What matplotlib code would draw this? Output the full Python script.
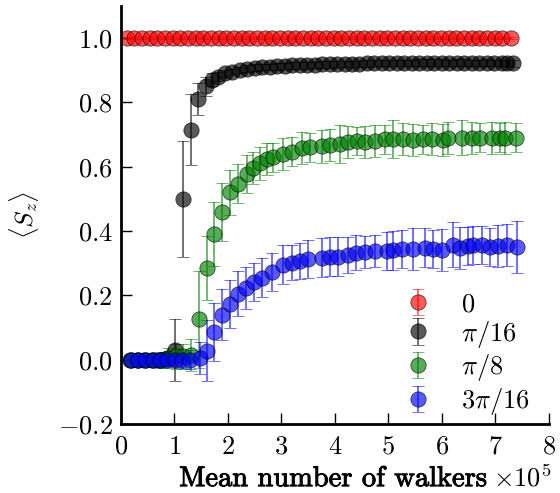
import numpy as np
import matplotlib
matplotlib.use('Agg')
import matplotlib.pyplot as plt
import matplotlib.patheffects as pe

plt.rcParams['font.family'] = 'serif'
plt.rcParams['font.serif'] = ['cmr10']
plt.rcParams['mathtext.fontset'] = 'cm'
plt.rcParams['axes.formatter.use_mathtext'] = True

# x in units of 1e5 walkers
x_0 = [0.11, 0.25, 0.40, 0.54, 0.68, 0.83, 0.97, 1.11, 1.26, 1.40, 1.54, 1.69, 1.83,
       1.97, 2.12, 2.26, 2.40, 2.55, 2.69, 2.83, 2.98, 3.12, 3.26, 3.41, 3.55, 3.69,
       3.84, 3.98, 4.12, 4.27, 4.41, 4.55, 4.70, 4.84, 4.98, 5.13, 5.27, 5.41, 5.56,
       5.70, 5.84, 5.99, 6.13, 6.27, 6.42, 6.56, 6.70, 6.85, 6.99, 7.13, 7.30]
y_0 = [1.0] * len(x_0)
e_0 = [0.004] * len(x_0)

x_pi16 = [0.17, 0.30, 0.44, 0.58, 0.72, 0.87, 1.01, 1.16, 1.31, 1.44, 1.59, 1.70, 1.82,
          1.95, 2.08, 2.22, 2.36, 2.50, 2.64, 2.78, 2.92, 3.06, 3.20, 3.34, 3.48, 3.62,
          3.76, 3.90, 4.04, 4.18, 4.32, 4.46, 4.60, 4.74, 4.88, 5.02, 5.16, 5.30, 5.44,
          5.58, 5.72, 5.86, 6.00, 6.14, 6.28, 6.42, 6.56, 6.70, 6.84, 6.98, 7.12, 7.22, 7.33]
y_pi16 = [0.0, 0.0, 0.0, 0.0, 0.0, 0.005, 0.03, 0.50, 0.715, 0.81, 0.85, 0.87, 0.88,
          0.89, 0.895, 0.90, 0.905, 0.908, 0.91, 0.91, 0.912, 0.913, 0.915, 0.915, 0.915,
          0.917, 0.918, 0.918, 0.92, 0.92, 0.92, 0.92, 0.921, 0.922, 0.922, 0.922, 0.923,
          0.923, 0.923, 0.924, 0.924, 0.924, 0.924, 0.923, 0.924, 0.924, 0.923, 0.923,
          0.924, 0.922, 0.923, 0.922, 0.921]
e_pi16 = [0.005, 0.005, 0.008, 0.01, 0.015, 0.02, 0.095, 0.18, 0.11, 0.05, 0.03, 0.02,
          0.015, 0.012, 0.01, 0.01, 0.01, 0.01, 0.01, 0.01, 0.01, 0.01, 0.01, 0.01, 0.01,
          0.01, 0.01, 0.01, 0.01, 0.01, 0.01, 0.01, 0.01, 0.01, 0.01, 0.01, 0.01, 0.01,
          0.01, 0.01, 0.01, 0.01, 0.01, 0.01, 0.01, 0.01, 0.01, 0.01, 0.01, 0.01, 0.01,
          0.01, 0.01]

x_pi8 = [0.18, 0.32, 0.46, 0.60, 0.74, 0.88, 1.02, 1.16, 1.31, 1.46, 1.60, 1.74, 1.89,
         2.04, 2.19, 2.35, 2.47, 2.60, 2.74, 2.85, 3.03, 3.20, 3.38, 3.53, 3.75, 3.90,
         4.09, 4.24, 4.41, 4.56, 4.75, 4.93, 5.08, 5.27, 5.46, 5.65, 5.81, 6.02, 6.11,
         6.37, 6.56, 6.71, 6.93, 7.08, 7.18, 7.38]
y_pi8 = [0.0, 0.0, 0.0, 0.0, 0.0, 0.005, 0.01, 0.01, 0.015, 0.125, 0.285, 0.39, 0.46,
         0.52, 0.547, 0.577, 0.597, 0.61, 0.623, 0.63, 0.64, 0.646, 0.658, 0.66, 0.663,
         0.667, 0.67, 0.677, 0.68, 0.677, 0.68, 0.686, 0.686, 0.686, 0.683, 0.686, 0.686,
         0.683, 0.69, 0.69, 0.69, 0.69, 0.69, 0.69, 0.69, 0.69]
e_pi8 = [0.01, 0.01, 0.015, 0.02, 0.025, 0.03, 0.04, 0.04, 0.05, 0.15, 0.10, 0.10, 0.09,
         0.07, 0.06, 0.06, 0.05, 0.05, 0.05, 0.045, 0.05, 0.045, 0.05, 0.045, 0.05, 0.05,
         0.06, 0.05, 0.045, 0.05, 0.05, 0.045, 0.06, 0.05, 0.05, 0.045, 0.05, 0.05, 0.05,
         0.055, 0.05, 0.045, 0.05, 0.045, 0.05, 0.045]

x_3pi16 = [0.18, 0.31, 0.45, 0.59, 0.73, 0.87, 1.01, 1.15, 1.30, 1.48, 1.60, 1.74, 1.89,
           2.04, 2.19, 2.33, 2.49, 2.64, 2.82, 3.03, 3.20, 3.35, 3.50, 3.75, 3.91, 4.05,
           4.24, 4.40, 4.56, 4.75, 4.97, 5.09, 5.25, 5.46, 5.68, 5.83, 6.00, 6.21, 6.34,
           6.49, 6.58, 6.75, 6.90, 7.05, 7.21, 7.40]
y_3pi16 = [0.0, 0.0, 0.0, 0.0, 0.0, 0.0, 0.0, 0.0, 0.0, 0.006, 0.028, 0.087, 0.14,
           0.173, 0.205, 0.224, 0.242, 0.255, 0.273, 0.295, 0.302, 0.307, 0.313, 0.317,
           0.32, 0.32, 0.326, 0.333, 0.336, 0.338, 0.338, 0.34, 0.344, 0.344, 0.348, 0.344,
           0.34, 0.357, 0.348, 0.354, 0.357, 0.357, 0.35, 0.354, 0.357, 0.35]
e_3pi16 = [0.005, 0.005, 0.01, 0.01, 0.015, 0.02, 0.02, 0.025, 0.03, 0.05, 0.095, 0.09,
           0.08, 0.075, 0.07, 0.065, 0.06, 0.06, 0.06, 0.06, 0.055, 0.055, 0.06, 0.06,
           0.06, 0.06, 0.055, 0.055, 0.05, 0.05, 0.06, 0.06, 0.06, 0.065, 0.06, 0.06,
           0.065, 0.07, 0.065, 0.06, 0.06, 0.06, 0.06, 0.065, 0.065, 0.08]

series = [
    (x_0, y_0, e_0, 'red', r'$0$'),
    (x_pi16, y_pi16, e_pi16, 'black', r'$\pi/16$'),
    (x_pi8, y_pi8, e_pi8, 'green', r'$\pi/8$'),
    (x_3pi16, y_3pi16, e_3pi16, 'blue', r'$3\pi/16$'),
]

fig = plt.figure(figsize=(5.6, 4.93), dpi=100)
ax = fig.add_axes([0.216, 0.14, 0.764, 0.848])

for xs, ys, es, c, lab in series:
    ax.errorbar(xs, ys, yerr=es, fmt='o', color=c, ms=11, mec='k', mew=0.6,
                alpha=0.65, elinewidth=1.2, capsize=4, capthick=1.2, label=lab)

ax.set_xlim(0, 8)
ax.set_ylim(-0.2, 1.1)
ax.set_xticks(range(0, 9))
ax.set_yticks([-0.2, 0.0, 0.2, 0.4, 0.6, 0.8, 1.0])
ax.set_yticklabels(['$-0.2$', '$0.0$', '$0.2$', '$0.4$', '$0.6$', '$0.8$', '$1.0$'])
ax.set_xticklabels(['$%d$' % i for i in range(9)])
ax.tick_params(direction='in', length=8, width=1, labelsize=19, pad=6)
ax.tick_params(axis='x', pad=8)
for s in ['top', 'right']:
    ax.spines[s].set_visible(False)
for s in ['left', 'bottom']:
    ax.spines[s].set_linewidth(2)

ax.set_ylabel(r'$\langle S_z\rangle$', fontsize=18, labelpad=12)
thick = [pe.withStroke(linewidth=0.7, foreground='black')]
fig.text(0.595, 0.014, 'Mean number of walkers', fontsize=20.5, fontname='cmr10',
         ha='center', va='baseline', path_effects=thick)
fig.text(0.88, 0.014, r'$\times10^{5}$', fontsize=19, ha='left', va='baseline')

ax.legend(loc='lower right', bbox_to_anchor=(1.01, -0.04), frameon=False,
          fontsize=19, handlelength=1.2, handletextpad=1.0, labelspacing=0.1,
          numpoints=1)

fig.savefig('out.png', dpi=100)
